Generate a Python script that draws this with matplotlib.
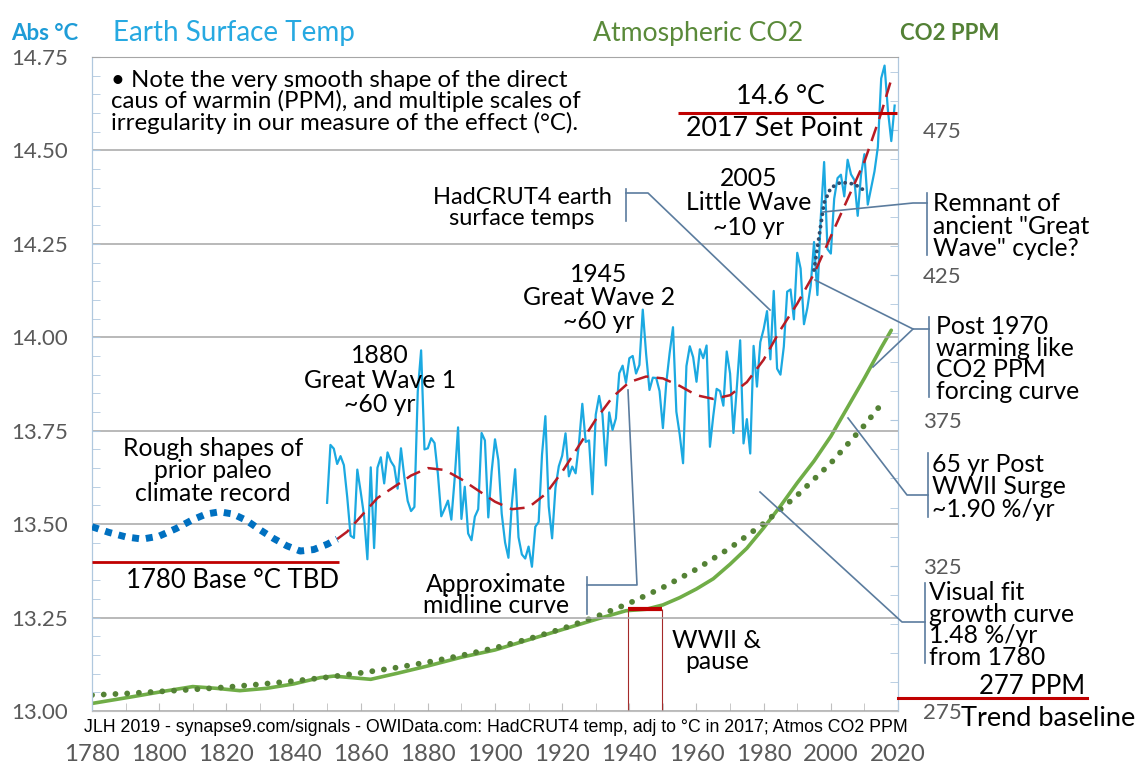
import matplotlib
matplotlib.use('Agg')
import matplotlib.pyplot as plt
from matplotlib.lines import Line2D
from matplotlib.ticker import FixedLocator, MultipleLocator, FormatStrFormatter

W, H = 1141, 768
FONT = ['Lato', 'DejaVu Sans']
NARROW = ['Liberation Sans Narrow', 'Liberation Sans', 'DejaVu Sans']
plt.rcParams['font.family'] = FONT

# HadCRUT4 annual temps, shifted to absolute degC
temp_years = list(range(1850, 2020))
temp_c = [13.557, 13.712, 13.702, 13.661, 13.682, 13.658, 13.572, 13.469, 13.463, 13.646,
          13.587, 13.523, 13.406, 13.652, 13.436, 13.651, 13.679, 13.609, 13.692, 13.668,
          13.654, 13.595, 13.703, 13.626, 13.562, 13.535, 13.546, 13.855, 13.965, 13.700,
          13.703, 13.730, 13.717, 13.634, 13.521, 13.541, 13.563, 13.512, 13.623, 13.759,
          13.514, 13.600, 13.475, 13.457, 13.520, 13.540, 13.744, 13.724, 13.518, 13.641,
          13.727, 13.671, 13.528, 13.451, 13.410, 13.553, 13.647, 13.465, 13.419, 13.408,
          13.440, 13.386, 13.493, 13.506, 13.686, 13.789, 13.547, 13.462, 13.597, 13.655,
          13.683, 13.743, 13.628, 13.654, 13.636, 13.715, 13.822, 13.720, 13.724, 13.580,
          13.793, 13.843, 13.793, 13.657, 13.799, 13.752, 13.783, 13.904, 13.924, 13.878,
          13.944, 13.950, 13.903, 13.926, 14.074, 13.955, 13.859, 13.892, 13.891, 13.856,
          13.757, 13.878, 13.958, 14.027, 13.801, 13.740, 13.663, 13.923, 13.976, 13.947,
          13.881, 13.968, 13.944, 13.978, 13.707, 13.790, 13.862, 13.856, 13.817, 13.962,
          13.903, 13.744, 13.865, 13.992, 13.716, 13.781, 13.689, 13.977, 13.868, 13.987,
          14.022, 14.070, 13.941, 14.124, 13.916, 13.900, 13.975, 14.122, 14.128, 14.048,
          14.226, 14.184, 14.035, 14.078, 14.138, 14.255, 14.113, 14.320, 14.469, 14.236,
          14.224, 14.371, 14.426, 14.435, 14.377, 14.475, 14.436, 14.421, 14.325, 14.436,
          14.490, 14.355, 14.400, 14.444, 14.509, 14.693, 14.727, 14.607, 14.525, 14.620]

# approximate midline curve (red dashed)
mid_years = [1853, 1856, 1860, 1865, 1870, 1875, 1880, 1885, 1890, 1895, 1900, 1905, 1910,
             1915, 1920, 1925, 1930, 1935, 1940, 1945, 1950, 1955, 1960, 1965, 1970, 1975,
             1980, 1985, 1990, 1995, 2000, 2005, 2010, 2015, 2018]
mid_c = [13.46, 13.48, 13.52, 13.57, 13.60, 13.63, 13.65, 13.645, 13.62, 13.59, 13.56, 13.54,
         13.545, 13.58, 13.64, 13.71, 13.78, 13.84, 13.88, 13.895, 13.89, 13.87, 13.845, 13.835,
         13.845, 13.88, 13.94, 14.02, 14.09, 14.17, 14.27, 14.37, 14.47, 14.60, 14.69]

# rough paleo shape (blue dotted)
paleo_years = [1780, 1785, 1790, 1795, 1800, 1805, 1810, 1814, 1818, 1822, 1826, 1830, 1834,
               1838, 1842, 1846, 1850, 1853]
paleo_c = [13.493, 13.478, 13.466, 13.460, 13.468, 13.488, 13.512, 13.527, 13.533, 13.527,
           13.510, 13.485, 13.462, 13.442, 13.428, 13.432, 13.446, 13.46]

# little wave (dark dotted)
little_years = [1995, 1996.5, 1998, 2000, 2003, 2007, 2010.5]
little_c = [14.18, 14.27, 14.36, 14.40, 14.415, 14.41, 14.39]

# atmospheric CO2 ppm (green solid)
co2_years = [1780, 1792, 1802, 1810, 1817, 1824, 1832, 1840, 1848, 1852, 1857, 1863, 1871,
             1880, 1890, 1900, 1910, 1920, 1930, 1939, 1945, 1950, 1955, 1960, 1965, 1970,
             1975, 1980, 1985, 1990, 1995, 2000, 2005, 2010, 2015, 2018]
co2_ppm = [277.6, 279.9, 281.9, 283.4, 282.8, 282.0, 282.8, 284.3, 286.5, 287.0, 286.5, 285.9,
           288.0, 290.5, 293.5, 296.0, 299.5, 303.0, 306.5, 309.5, 310.0, 311.5, 314.0, 317.0,
           320.5, 325.5, 331.0, 338.0, 345.5, 353.5, 361.0, 369.5, 379.5, 389.5, 400.0, 406.0]

# visual fit growth curve (green dotted)
fit_years = [1780, 1790, 1800, 1810, 1820, 1830, 1840, 1850, 1860, 1870, 1880, 1890, 1900,
             1910, 1920, 1930, 1940, 1950, 1960, 1970, 1980, 1990, 2000, 2010, 2015]
fit_ppm = [280.5, 281.0, 281.7, 282.4, 283.2, 284.2, 285.3, 286.6, 288.1, 289.8, 291.8, 294.1,
           296.7, 299.8, 303.3, 307.4, 312.1, 317.5, 323.8, 331.1, 339.5, 349.2, 360.3, 373.3,
           380.5]

year_ticks = list(range(1780, 2021, 20))
temp_ticks = [13.00, 13.25, 13.50, 13.75, 14.00, 14.25, 14.50, 14.75]
ppm_ticks = [275, 325, 375, 425, 475]

GRAY = '#595959'
AXBLUE = '#B0C8DE'
CALL = '#5B7C9E'
RED = '#C00000'

fig = plt.figure(figsize=(W / 100, H / 100), dpi=100)
ax = fig.add_axes([92 / W, 1 - 711 / H, (898 - 92) / W, (711 - 57) / H])
ax2 = ax.twinx()
ax.set_zorder(ax2.get_zorder() + 1)
ax.patch.set_visible(False)

ax.set_xlim(1780, 2020)
ax.set_ylim(13.0, 14.75)
ax2.set_ylim(275, 500)

ax.yaxis.grid(True, color='#A6A6A6', lw=1.1)
ax.set_axisbelow(True)

# CO2 on the right axis
ax2.plot(co2_years, co2_ppm, color='#70AD47', lw=2.6, solid_capstyle='round')
ax2.plot(fit_years, fit_ppm, color='#548235', lw=4.2, linestyle=(0, (0.01, 2.0)),
         dash_capstyle='round')
ax2.hlines(310, 1939.6, 1949.7, color=RED, lw=3)
ax2.vlines([1939.6, 1949.7], 275, 310, color='#A52A2A', lw=0.8)

# temps on the left axis
ax.plot(temp_years, temp_c, color='#1BA9E1', lw=1.6, zorder=3)
ax.plot(mid_years, mid_c, color='#B81C24', lw=1.8, linestyle=(0, (6, 3.3)), zorder=4)
ax.plot(paleo_years, paleo_c, color='#0070C0', lw=5, linestyle=(0, (1, 1)), zorder=4)
ax.plot(little_years, little_c, color='#2F4D6E', lw=2.8, linestyle=(0, (0.01, 1.6)),
        dash_capstyle='round', zorder=5)
ax.hlines(14.6, 1954.5, 2019.7, color=RED, lw=2.2, zorder=5)
ax.hlines(13.40, 1780, 1853.5, color=RED, lw=2.0, zorder=5)

# axes styling
for side in ['left', 'right']:
    ax.spines[side].set_color(AXBLUE)
    ax2.spines[side].set_color(AXBLUE)
ax.spines['top'].set_color('#A6A6A6')
ax.spines['bottom'].set_color('#BFBFBF')
ax2.spines['top'].set_visible(False)
ax2.spines['bottom'].set_visible(False)

ax.set_xticks(year_ticks)
ax.xaxis.set_minor_locator(MultipleLocator(10))
ax.set_yticks(temp_ticks)
ax.yaxis.set_major_formatter(FormatStrFormatter('%.2f'))
ax.yaxis.set_minor_locator(MultipleLocator(0.05))
ax.tick_params(axis='x', which='both', direction='in', length=6, color='#BFBFBF',
               labelsize=17.3, labelcolor=GRAY, pad=24)
ax.tick_params(axis='y', which='both', direction='in', length=6, color=AXBLUE,
               labelsize=16, labelcolor=GRAY, pad=17)
ax2.set_yticks(ppm_ticks)
ax2.yaxis.set_minor_locator(FixedLocator(list(range(275, 500, 10))))
ax2.tick_params(axis='y', which='both', direction='in', length=6, color=AXBLUE,
                labelsize=16, labelcolor=GRAY, pad=18)


def put(x, y, s, ha='center', size=17.8, ls=0.95, **kw):
    fig.text(x / W, 1 - y / H, s, ha=ha, va='center', fontsize=size, linespacing=ls,
             multialignment=ha, **kw)


def callout(pts):
    fig.add_artist(Line2D([p[0] / W for p in pts], [1 - p[1] / H for p in pts],
                          color=CALL, lw=1.2))


# titles
put(11, 33, 'Abs °C', ha='left', size=16, color='#1E9CD7', fontweight='bold')
put(113, 33, 'Earth Surface Temp', ha='left', size=20, color='#27A9E1')
put(593, 33, 'Atmospheric CO2', ha='left', size=19.2, color='#5A8A3A')
put(900, 33, 'CO2 PPM', ha='left', size=16, color='#538135', fontweight='bold')

put(111, 102, '• Note the very smooth shape of the direct\ncaus of warmin (PPM), and multiple scales of\nirregularity in our measure of the effect (°C).',
    ha='left', size=17.3, ls=0.94)
put(780, 97, '14.6 °C', size=19.3)
put(774, 128, '2017 Set Point', size=19.3)
put(233, 580, '1780 Base °C TBD', size=18.5)
put(213, 471, 'Rough shapes of\nprior paleo\nclimate record', ls=0.95)
put(380, 380, '1880\nGreat Wave 1\n~60 yr', ls=1.10)
put(599, 298, '1945\nGreat Wave 2\n~60 yr', ls=1.01)
put(749, 203, '2005\nLittle Wave\n~10 yr', ls=1.08)
put(522, 208, 'HadCRUT4 earth\nsurface temps', size=17, ls=1.0)
put(496, 595, 'Approximate\nmidline curve', ls=0.89)
put(717, 651, 'WWII &\npause', ls=0.93)
put(933, 226, 'Remnant of\nancient "Great\nWave" cycle?', ha='left', ls=0.95)
put(936, 359, 'Post 1970\nwarming like\nCO2 PPM\nforcing curve', ha='left', ls=0.93)
put(932, 487, '65 yr Post\nWWII Surge\n~1.90 %/yr', ha='left', ls=0.97)
put(929, 625, 'Visual fit\ngrowth curve\n1.48 %/yr\nfrom 1780', ha='left', ls=0.93)
put(1085, 686, '277 PPM', ha='right', size=18.5)
put(961, 719, 'Trend baseline', ha='left', size=19.5)
put(496, 727, 'JLH 2019 - synapse9.com/signals - OWIData.com: HadCRUT4 temp, adj to °C in 2017; Atmos CO2 PPM',
    size=12.8, family=NARROW)

fig.add_artist(Line2D([898 / W, 1087 / W], [1 - 698 / H, 1 - 698 / H], color=RED, lw=2.2))

# callout brackets
callout([(626, 189), (626, 221)])
callout([(626, 193), (648, 193), (770, 310)])
callout([(587, 577), (587, 614)])
callout([(587, 585), (637, 585), (628, 390)])
callout([(927, 193), (927, 255)])
callout([(927, 203), (913, 203), (823, 212)])
callout([(929, 317), (929, 397)])
callout([(929, 329), (913, 329), (815, 280)])
callout([(913, 329), (873, 367)])
callout([(928, 453), (928, 517)])
callout([(928, 495), (907, 495), (848, 418)])
callout([(925, 583), (925, 663)])
callout([(925, 622), (902, 622), (760, 492)])

fig.savefig('out.png', dpi=100)
